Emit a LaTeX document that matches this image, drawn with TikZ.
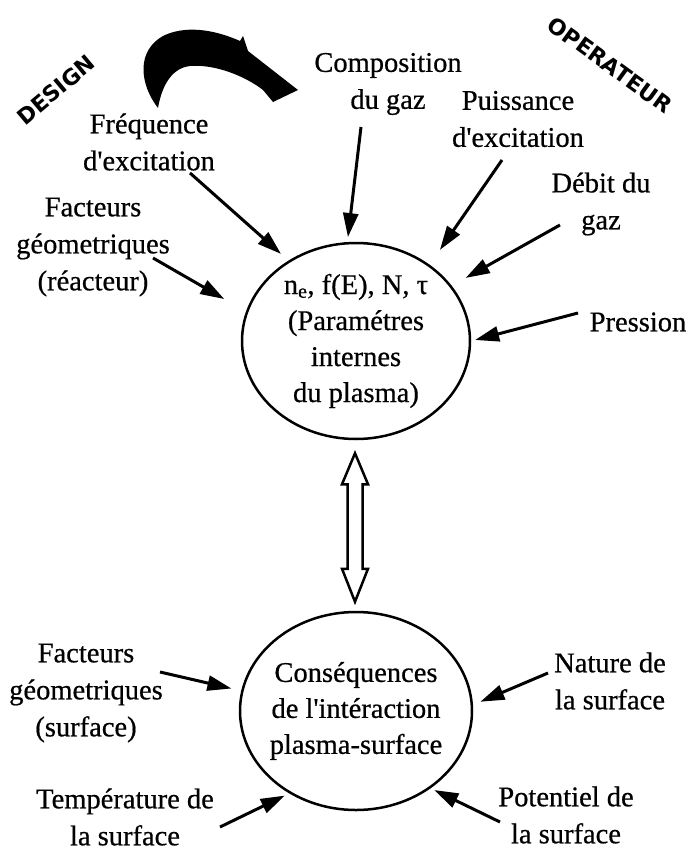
\documentclass[tikz,border=0pt]{standalone}
\usepackage{fontspec}
\setmainfont{Liberation Serif}[FakeBold=0.6]
\newfontfamily\bannerfont{DejaVu Sans}
\usetikzlibrary{shapes.geometric,arrows.meta,calc}
\newcommand{\apo}{\textquotesingle}
\begin{document}
\begin{tikzpicture}[x=1pt,y=-1pt,
  lbl/.style={align=center,font=\fontsize{28.5}{37}\selectfont,inner sep=0pt},
  banner/.style={font=\bannerfont\bfseries\fontsize{22}{26}\selectfont,inner sep=0pt},
  bubble/.style={draw,ellipse,line width=2.5pt,inner sep=-8pt,align=center,
    font=\fontsize{28.5}{36}\selectfont},
  feed/.style={line width=3pt,-{Triangle[length=24pt,width=15pt]}},
  link/.style={line width=2.5pt,line join=miter}]
\useasboundingbox (0,0) rectangle (688,851);

% bubbles
\node[bubble,minimum width=228pt,minimum height=196pt] (top) at (356,341)
  {n\textsubscript{e}, f(E), N, τ\\(Paramétres\\internes\\du plasma)};
\node[bubble,minimum width=232pt,minimum height=198pt] (bot) at (356,711)
  {Conséquences\\de l\apo intéraction\\plasma-surface};

% banners
\node[banner,rotate=40] (design) at (56,90) {DESIGN};
\node[banner,rotate=-36] (oper) at (610,65) {OPERATEUR};

% big curved arrow
\fill (158,108) .. controls (140,85) and (135,50) .. (165,35)
  .. controls (190,24) and (220,32) .. (240,41) -- (243,36) -- (248,51) -- (298,90)
  -- (273,102) -- (263,90) .. controls (245,76) and (215,64) .. (190,66)
  .. controls (172,68) and (162,85) .. (158,108) -- cycle;

% labels
\node[lbl] (comp) at (388,84) {Composition\\du gaz};
\node[lbl] (freq) at (149,142) {Fréquence\\d\apo excitation};
\node[lbl] (puis) at (518,119) {Puissance\\d\apo excitation};
\node[lbl] (debit) at (601,204) {Débit du\\gaz};
\node[lbl] (fact1) at (93,247) {Facteurs\\géometriques\\(réacteur)};
\node[lbl] (press) at (638,322) {Pression};
\node[lbl] (fact2) at (86,693) {Facteurs\\géometriques\\(surface)};
\node[lbl] (nat) at (610,681) {Nature de\\la surface};
\node[lbl] (temp) at (125,817) {Température de\\la surface};
\node[lbl] (pot) at (566,815) {Potentiel de\\la surface};

% start points of arrows
\coordinate (sfreq) at (190,173);
\coordinate (scomp) at (361,127);
\coordinate (spuis) at (502,160);
\coordinate (sdeb) at (560,225);
\coordinate (spress) at (578,313);
\coordinate (sfact1) at (153,258);
\coordinate (sfact2) at (160,672);
\coordinate (snat) at (548,673);
\coordinate (stemp) at (220,827);
\coordinate (spot) at (500,822);

\draw[feed,shorten >=10pt] (sfreq) -- (top.130.7);
\draw[feed,shorten >=5pt] (scomp) -- (top.95);
\draw[feed,shorten >=18pt] (spuis) -- (top.46.7);
\draw[feed,shorten >=16pt] (sdeb) -- (top.30);
\draw[feed,shorten >=4pt] (spress) -- (top.0);
\draw[feed,shorten >=25pt] (sfact1) -- (top.165.8);
\draw[feed,shorten >=10pt] (sfact2) -- (bot.170.4);
\draw[feed,shorten >=8pt] (snat) -- (bot.3.7);
\draw[feed,shorten >=5pt] (stemp) -- (bot.231.7);
\draw[feed,shorten >=4pt] (spot) -- (bot.314.3);

% hollow double arrow between bubbles
\coordinate (la) at ($(top.south)+(-1,13)$);
\coordinate (lb) at ($(bot.north)+(-1,-9)$);
\draw[link] (la) -- ++(13,31) -- ++(-5.5,0) -- ($(lb)+(7.5,-33)$) -- ++(5.5,0)
  -- (lb) -- ++(-13,-33) -- ++(5.5,0) -- ($(la)+(-7.5,31)$) -- ++(-5.5,0) -- cycle;
\end{tikzpicture}
\end{document}
